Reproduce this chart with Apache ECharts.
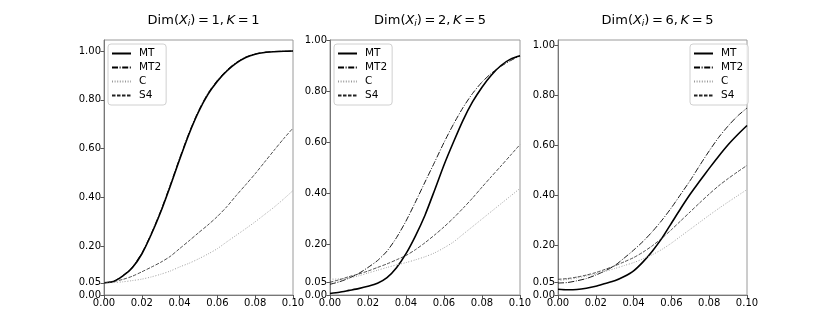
<!DOCTYPE html>
<html><head><meta charset="utf-8">
<script src="https://cdn.jsdelivr.net/npm/echarts@6/dist/echarts.min.js"></script>
<style>html,body{margin:0;padding:0;background:#fff}#c{width:830px;height:332px}</style>
</head><body><div id="c"></div>
<script>
const xs = [0,0.005,0.01,0.015,0.02,0.025,0.03,0.035,0.04,0.045,0.05,0.055,0.06,0.065,0.07,0.075,0.08,0.085,0.09,0.095,0.1];
const xTicks = [0,0.02,0.04,0.06,0.08,0.1];
const yTicks = [0,0.05,0.2,0.4,0.6,0.8,1.0];
const seriesNames = ['MT','MT2','C','S4'];
const titles = [['1','1'],['2','5'],['6','5']];
// Panel 1: Dim=1, K=1
const p1_MT  = [0.05,0.055,0.078,0.112,0.168,0.248,0.34,0.445,0.555,0.66,0.75,0.822,0.876,0.918,0.95,0.973,0.987,0.994,0.997,0.999,1.0];
const p1_MT2 = [0.05,0.056,0.08,0.115,0.172,0.252,0.345,0.45,0.56,0.665,0.755,0.827,0.88,0.922,0.953,0.975,0.988,0.995,0.998,0.999,1.0];
const p1_C   = [0.05,0.051,0.054,0.059,0.065,0.074,0.085,0.098,0.115,0.13,0.148,0.168,0.19,0.218,0.245,0.272,0.3,0.33,0.36,0.393,0.428];
const p1_S4  = [0.05,0.055,0.064,0.077,0.095,0.114,0.134,0.158,0.19,0.222,0.255,0.287,0.322,0.362,0.408,0.452,0.497,0.545,0.593,0.64,0.684];
// Panel 2: Dim=2, K=5
const p2_MT  = [0.006,0.011,0.018,0.025,0.034,0.046,0.068,0.107,0.162,0.232,0.313,0.41,0.51,0.6,0.685,0.757,0.815,0.863,0.9,0.925,0.938];
const p2_MT2 = [0.042,0.052,0.066,0.084,0.108,0.135,0.172,0.225,0.29,0.365,0.443,0.52,0.598,0.67,0.735,0.79,0.835,0.87,0.897,0.919,0.938];
const p2_C   = [0.062,0.063,0.067,0.075,0.086,0.097,0.108,0.118,0.127,0.138,0.15,0.165,0.185,0.208,0.238,0.268,0.298,0.328,0.358,0.388,0.418];
const p2_S4  = [0.05,0.06,0.072,0.082,0.094,0.108,0.122,0.138,0.155,0.178,0.205,0.235,0.267,0.302,0.34,0.38,0.423,0.465,0.506,0.548,0.59];
// Panel 3: Dim=6, K=5
const p3_MT  = [0.023,0.021,0.022,0.027,0.035,0.046,0.057,0.074,0.097,0.133,0.177,0.228,0.288,0.348,0.405,0.457,0.508,0.557,0.603,0.643,0.68];
const p3_MT2 = [0.048,0.05,0.057,0.066,0.08,0.097,0.118,0.148,0.18,0.215,0.255,0.3,0.35,0.405,0.46,0.52,0.578,0.632,0.678,0.718,0.75];
const p3_C   = [0.058,0.062,0.068,0.076,0.085,0.095,0.106,0.118,0.13,0.145,0.162,0.183,0.208,0.236,0.264,0.292,0.32,0.347,0.373,0.398,0.423];
const p3_S4  = [0.063,0.066,0.072,0.08,0.09,0.103,0.117,0.133,0.15,0.172,0.198,0.228,0.262,0.298,0.334,0.37,0.405,0.438,0.467,0.494,0.52];
const panels = [[p1_MT,p1_MT2,p1_C,p1_S4],[p2_MT,p2_MT2,p2_C,p2_S4],[p3_MT,p3_MT2,p3_C,p3_S4]];

const FONT = 'DejaVu Sans';
const TS = '\u2009';
const grids = [
  {left:104, width:189, top:40, height:255, ymax:1.045, legendLeft:108},
  {left:330, width:190, top:40, height:255, ymax:1.0, legendLeft:334},
  {left:558, width:189, top:40, height:255, ymax:1.023, legendLeft:690}
];
const styles = [
  {color:'#000', width:1.6, type:'solid'},
  {color:'#000', width:0.9, type:[6,1.6,1,1.6]},
  {color:'#999', width:0.9, type:[1,1.6]},
  {color:'#222', width:0.8, type:[3.5,1.5]}
];
const option = {animation:false, backgroundColor:'#fff', title:[], grid:[], xAxis:[], yAxis:[], series:[], legend:[]};
grids.forEach((g,i)=>{
  option.grid.push({left:g.left, width:g.width, top:g.top, height:g.height, show:true, borderColor:'#9a9a9a', borderWidth:1, containLabel:false});
  option.title.push({
    text:'Dim({it|X}{sub|i})'+TS+'='+TS+titles[i][0]+','+TS+'{it|K}'+TS+'='+TS+titles[i][1],
    left:g.left+g.width/2, top:8, textAlign:'center',
    textStyle:{fontFamily:FONT, fontSize:13, fontWeight:'normal', color:'#000',
      rich:{it:{fontFamily:FONT, fontSize:13, fontStyle:'italic', color:'#000'},
            sub:{fontFamily:FONT, fontSize:9, fontStyle:'italic', color:'#000', verticalAlign:'bottom', padding:[6,0,0,0]}}}
  });
  option.xAxis.push({type:'value', gridIndex:i, min:0, max:0.1, interval:0.02,
    axisLine:{show:true, onZero:false, lineStyle:{color:'#777'}},
    axisTick:{show:true, length:3.5, lineStyle:{color:'#555'}},
    splitLine:{show:false},
    axisLabel:{fontFamily:FONT, fontSize:10, color:'#000', margin:3, formatter:v=>v.toFixed(2)}});
  option.yAxis.push({type:'value', gridIndex:i, min:0, max:g.ymax,
    axisLine:{show:true, onZero:false, lineStyle:{color:'#777'}},
    axisTick:{show:true, length:3.5, lineStyle:{color:'#555'}, customValues:yTicks},
    splitLine:{show:false},
    axisLabel:{fontFamily:FONT, fontSize:10, color:'#000', margin:3, customValues:yTicks, formatter:v=>v.toFixed(2)}});
  seriesNames.forEach((n,k)=>{
    option.series.push({type:'line', name:n, xAxisIndex:i, yAxisIndex:i, symbol:'none', smooth:0.25,
      lineStyle:{color:styles[k].color, width:styles[k].width, type:styles[k].type},
      itemStyle:{color:styles[k].color},
      data: xs.map((x,j)=>[x, panels[i][k][j]])});
  });
  option.legend.push({data:seriesNames, orient:'vertical', left:g.legendLeft, top:44,
    itemWidth:19, itemHeight:8, itemGap:3, padding:[4,5,4,3],
    itemStyle:{opacity:0},
    borderColor:'#d0d0d0', borderWidth:1, borderRadius:3, backgroundColor:'rgba(255,255,255,0.8)',
    textStyle:{fontFamily:FONT, fontSize:10.5, lineHeight:11, color:'#000', padding:[0,0,0,3]}, selectedMode:false});
});
const chart = echarts.init(document.getElementById('c'), null, {renderer:'canvas'});
chart.setOption(option);
</script></body></html>
